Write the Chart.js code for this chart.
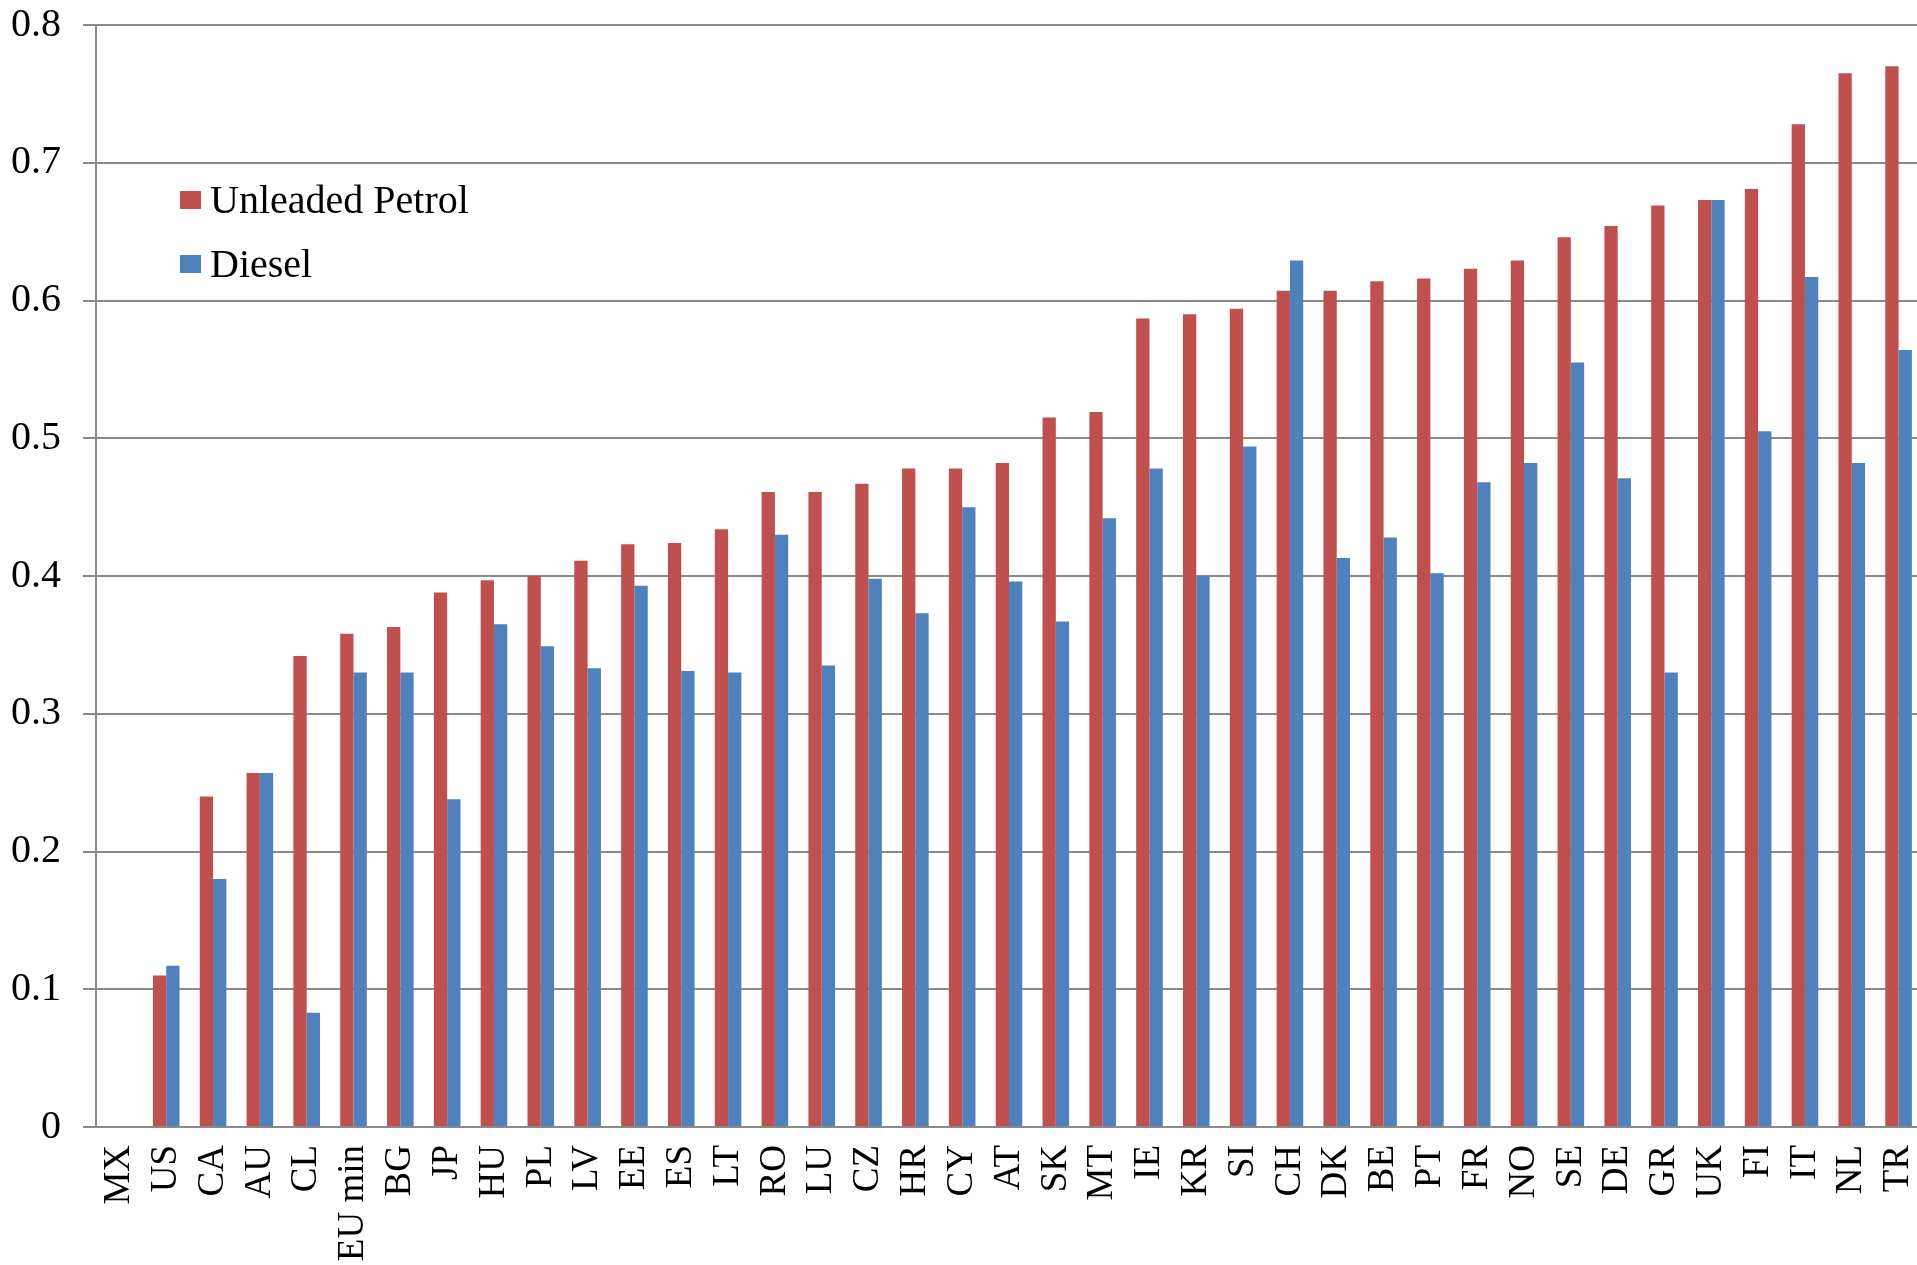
<!DOCTYPE html>
<html lang="en">
<head>
    <meta charset="UTF-8">
    <title>Unleaded Petrol vs Diesel</title>
    <style>
        html, body {
            margin: 0;
            padding: 0;
            overflow: hidden;
            background: #fff;
            font-family: "Liberation Serif", "Times New Roman", serif;
        }

        .chart-box {
            position: relative;
            width: 1961px;
            height: 1265px;
        }

        .legend-row {
            position: absolute;
            left: 180px;
            height: 40px;
            display: flex;
            align-items: center;
            font-size: 40px;
            line-height: 40px;
            color: #000;
        }

        .legend-color {
            width: 21px;
            height: 18px;
            margin-right: 9px;
        }
    </style>
</head>
<body>

<div class="chart-box">
    <canvas id="bars"></canvas>
    <div class="legend-row" style="top: 180px;">
        <div class="legend-color" style="background-color: #C0504D;"></div>
        <span>Unleaded Petrol</span>
    </div>
    <div class="legend-row" style="top: 244px;">
        <div class="legend-color" style="background-color: #4F81BD;"></div>
        <span>Diesel</span>
    </div>
</div>

<script src="https://cdn.jsdelivr.net/npm/chart.js"></script>

<script>
    const countries = ['MX', 'US', 'CA', 'AU', 'CL', 'EU min', 'BG', 'JP', 'HU', 'PL', 'LV', 'EE', 'ES',
        'LT', 'RO', 'LU', 'CZ', 'HR', 'CY', 'AT', 'SK', 'MT', 'IE', 'KR', 'SI', 'CH', 'DK', 'BE',
        'PT', 'FR', 'NO', 'SE', 'DE', 'GR', 'UK', 'FI', 'IT', 'NL', 'TR'];

    const petrol = [null, 0.110, 0.240, 0.257, 0.342, 0.358, 0.363, 0.388, 0.397, 0.400, 0.411, 0.423, 0.424,
        0.434, 0.461, 0.461, 0.467, 0.478, 0.478, 0.482, 0.515, 0.519, 0.587, 0.590, 0.594, 0.607, 0.607, 0.614,
        0.616, 0.623, 0.629, 0.646, 0.654, 0.669, 0.673, 0.681, 0.728, 0.765, 0.770];

    const diesel = [null, 0.117, 0.180, 0.257, 0.083, 0.330, 0.330, 0.238, 0.365, 0.349, 0.333, 0.393, 0.331,
        0.330, 0.430, 0.335, 0.398, 0.373, 0.450, 0.396, 0.367, 0.442, 0.478, 0.400, 0.494, 0.629, 0.413, 0.428,
        0.402, 0.468, 0.482, 0.555, 0.471, 0.330, 0.673, 0.505, 0.617, 0.482, 0.564];

    const yTicks = [0, 0.1, 0.2, 0.3, 0.4, 0.5, 0.6, 0.7, 0.8];

    const gridGray = '#8a8a8a';
    const serif = '"Liberation Serif", "Times New Roman", serif';

    const ctx = document.getElementById('bars').getContext('2d');
    const chart = new Chart(ctx, {
        type: 'bar',
        data: {
            labels: countries,
            datasets: [
                { label: 'Unleaded Petrol', data: petrol, backgroundColor: '#C0504D', borderWidth: 0 },
                { label: 'Diesel', data: diesel, backgroundColor: '#4F81BD', borderWidth: 0 }
            ]
        },
        options: {
            responsive: true,
            maintainAspectRatio: false,
            animation: false,
            categoryPercentage: 0.568,
            barPercentage: 1.0,
            layout: {
                padding: { top: 25, right: 0, left: 0, bottom: 0 }
            },
            plugins: {
                legend: { display: false }, // legend is HTML, sits inside the plot
                tooltip: { enabled: false }
            },
            scales: {
                x: {
                    grid: { display: false, drawTicks: false },
                    border: { display: true, color: gridGray, width: 2 },
                    ticks: {
                        autoSkip: false,
                        minRotation: 90,
                        maxRotation: 90,
                        padding: 18,
                        color: '#000',
                        font: { family: serif, size: 37 }
                    },
                    afterFit: function (scale) {
                        scale.height = 138;
                    }
                },
                y: {
                    min: 0,
                    max: 0.8,
                    afterBuildTicks: function (scale) {
                        scale.ticks = yTicks.map(v => ({ value: v }));
                    },
                    grid: { color: gridGray, lineWidth: 2, tickLength: 13 },
                    border: { display: true, color: gridGray, width: 2 },
                    ticks: {
                        padding: 22,
                        color: '#000',
                        // tiny lineHeight so the top label does not push the plot down
                        font: { family: serif, size: 40, lineHeight: 0.05 },
                        callback: v => v === 0 ? '0' : v.toFixed(1)
                    },
                    afterFit: function (scale) {
                        scale.width = 96;
                    }
                }
            }
        }
    });
</script>

</body>
</html>
